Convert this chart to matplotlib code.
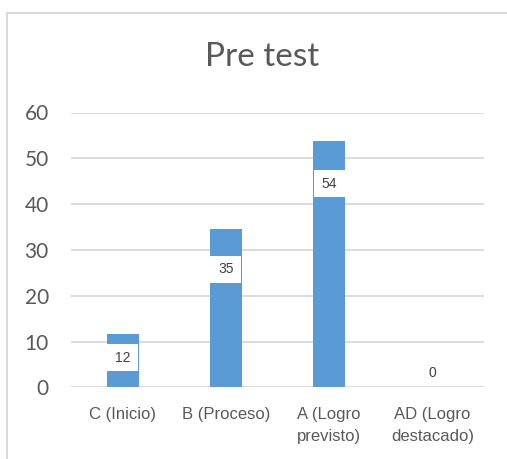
import matplotlib.pyplot as plt
from matplotlib.lines import Line2D

# data
categorias = ["C (Inicio)", "B (Proceso)", "A (Logro\nprevisto)", "AD (Logro\ndestacado)"]
valores = [11.6, 34.6, 53.8, 0]
etiquetas = ["12", "35", "54", "0"]
altura_etiqueta = [6.5, 25.8, 44.4, 3.2]  # where each data label sits
yticks = [0, 10, 20, 30, 40, 50, 60]

fig = plt.figure(figsize=(5.07, 4.59), dpi=100)

# outer chart border (top + left only, the rest is cut off in the reference)
borde = dict(color="#d9d9d9", linewidth=1.5, transform=fig.transFigure)
fig.lines.append(Line2D([7 / 507, 1.0], [1 - 13 / 459] * 2, **borde))
fig.lines.append(Line2D([7 / 507] * 2, [0, 1 - 13 / 459], **borde))

ax = fig.add_axes([71 / 507, 71.7 / 459, 413 / 507, 274.8 / 459])
x = list(range(len(categorias)))
ancho = 0.31
ax.bar(x, valores, width=ancho, color="#5b9bd5", zorder=3)

# white label boxes, same width as the bars
caja = 5.9
for xi, yi, v, txt in zip(x, altura_etiqueta, valores, etiquetas):
    if v > 0:
        ax.bar(xi, caja, bottom=yi - caja / 2, width=ancho * 0.97, color="white", zorder=4)
    ax.text(xi, yi, txt, ha="center", va="center", fontsize=10, color="#404040",
            family="Liberation Sans", zorder=5)

ax.set_xlim(-0.5, 3.5)
ax.set_ylim(0, 60)
ax.set_yticks(yticks)
ax.set_xticks(x)
ax.set_xticklabels(categorias, family="Liberation Sans", fontsize=12, color="#595959",
                   linespacing=1.6)
for t in ax.get_yticklabels():
    t.set_family("Lato")
    t.set_fontsize(15)
    t.set_color("#595959")
ax.tick_params(axis="y", length=0, pad=16)
ax.tick_params(axis="x", length=0, pad=14)
ax.grid(axis="y", color="#d9d9d9", linewidth=1.3, zorder=0)
for s in ax.spines.values():
    s.set_visible(False)

fig.text(262 / 507, 1 - 57.5 / 459, "Pre test", ha="center", va="center",
         fontsize=24, color="#595959", family="Lato")

fig.savefig("out.png", dpi=100)
